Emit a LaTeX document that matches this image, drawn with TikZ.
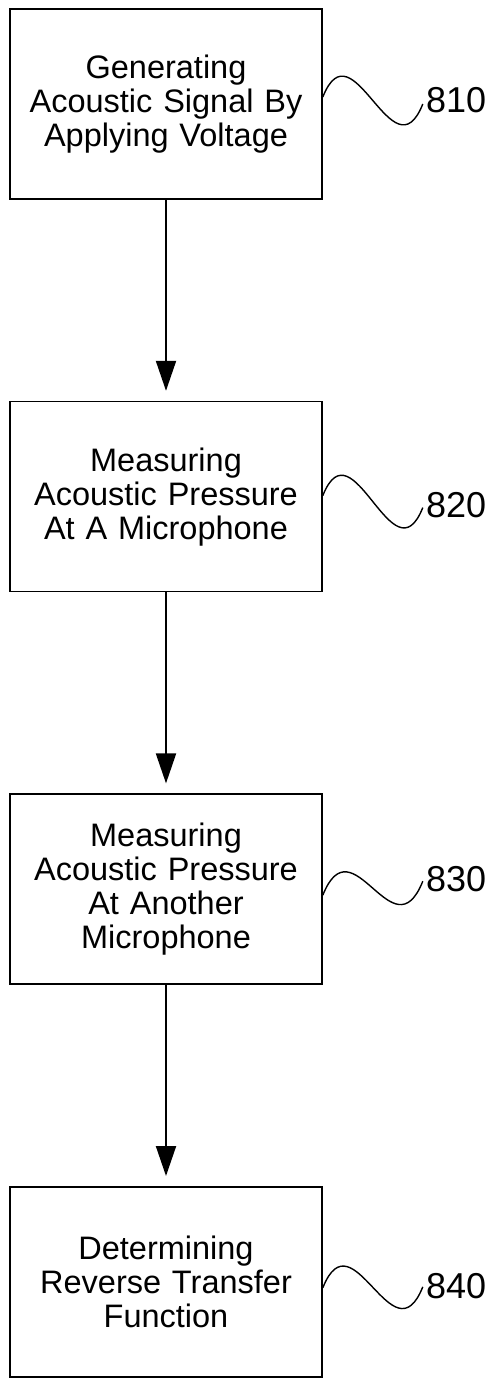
\documentclass[tikz,border=0pt]{standalone}
\usepackage{fontspec}
\setmainfont{Liberation Sans}
\usetikzlibrary{arrows.meta,positioning}

\tikzset{
  stepbox/.style={draw, line width=1.6pt, minimum width=312pt, minimum height=190pt,
    text width=300pt, align=center, inner sep=0pt, font=\fontsize{32.5}{34}\selectfont},
  refnum/.style={inner sep=0pt, anchor=west, font=\fontsize{36}{36}\selectfont},
  flow/.style={line width=2pt, -{Triangle[length=30pt,width=20pt]}, shorten >=10pt},
  squig/.style={line width=1.4pt}
}

\begin{document}
\begin{tikzpicture}[node distance=201pt]
  \useasboundingbox (0,0) rectangle (494pt,-1378pt);

  % steps
  \node[stepbox] (b1) at (166pt,-104pt) {Generating\\Acoustic Signal By\\Applying Voltage};
  \node[stepbox, below=of b1] (b2) {Measuring\\Acoustic Pressure\\At A Microphone};
  \node[stepbox, below=of b2] (b3) {Measuring\\Acoustic Pressure\\At Another\\Microphone};
  \node[stepbox, below=of b3] (b4) {Determining\\Reverse Transfer\\Function};

  \draw[flow] (b1) -- (b2);
  \draw[flow] (b2) -- (b3);
  \draw[flow] (b3) -- (b4);

  % reference numerals
  \node[refnum] (l1) at ([shift={(103pt,4pt)}]b1.east) {810};
  \node[refnum] (l2) at ([shift={(103pt,-9pt)}]b2.east) {820};
  \node[refnum] (l3) at ([shift={(103pt,10pt)}]b3.east) {830};
  \node[refnum] (l4) at ([shift={(103pt,-4pt)}]b4.east) {840};

  \draw[squig] ([yshift=7pt]b1.east) .. controls +(30pt,75pt) and +(-30pt,-75pt) .. ([shift={(-3pt,-4pt)}]l1.west);
  \draw[squig] ([yshift=1pt]b2.east) .. controls +(30pt,75pt) and +(-30pt,-75pt) .. ([shift={(-3pt,-2pt)}]l2.west);
  \draw[squig] ([yshift=-6pt]b3.east) .. controls +(30pt,75pt) and +(-30pt,-75pt) .. ([shift={(-3pt,-2pt)}]l3.west);
  \draw[squig] ([yshift=-6pt]b4.east) .. controls +(30pt,75pt) and +(-30pt,-75pt) .. ([shift={(-3pt,-1pt)}]l4.west);
\end{tikzpicture}
\end{document}
